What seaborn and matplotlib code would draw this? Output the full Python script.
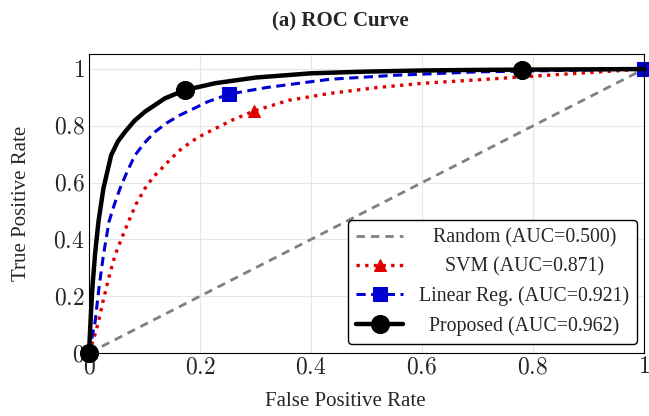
import matplotlib
matplotlib.use("Agg")
import matplotlib.pyplot as plt
import seaborn as sns

# ROC points
random_fpr = [0.0, 1.0]
random_tpr = [0.0, 1.0]

svm_fpr = [0.0, 0.005, 0.010, 0.017, 0.025, 0.035, 0.047, 0.059, 0.071,
           0.085, 0.101, 0.115, 0.131, 0.148, 0.167, 0.195, 0.227, 0.26,
           0.298, 0.36, 0.433, 0.52, 0.602, 0.7, 0.77, 0.88, 1.0]
svm_tpr = [0.0, 0.03, 0.06, 0.11, 0.18, 0.26, 0.345, 0.405, 0.462,
           0.525, 0.58, 0.618, 0.65, 0.685, 0.72, 0.758, 0.79, 0.822,
           0.853, 0.89, 0.914, 0.935, 0.95, 0.962, 0.971, 0.985, 1.0]
svm_marks = [18]

lin_fpr = [0.0, 0.005, 0.011, 0.018, 0.026, 0.036, 0.046, 0.056, 0.069,
           0.083, 0.1, 0.119, 0.14, 0.164, 0.19, 0.214, 0.253, 0.32, 0.434,
           0.55, 0.7, 0.85, 1.0]
lin_tpr = [0.0, 0.05, 0.110, 0.23, 0.345, 0.462, 0.525, 0.58, 0.64,
           0.697, 0.74, 0.779, 0.81, 0.838, 0.862, 0.885, 0.912, 0.935, 0.964,
           0.978, 0.99, 0.995, 1.0]
lin_marks = [16, 22]

prop_fpr = [0.0, 0.003, 0.006, 0.011, 0.017, 0.026, 0.04, 0.052, 0.065,
            0.082, 0.101, 0.137, 0.173, 0.227, 0.3, 0.4, 0.5, 0.6, 0.7,
            0.78, 0.9, 1.0]
prop_tpr = [0.0, 0.12, 0.228, 0.35, 0.462, 0.58, 0.697, 0.745, 0.779,
            0.818, 0.85, 0.897, 0.926, 0.95, 0.97, 0.985, 0.991, 0.995,
            0.997, 0.998, 0.999, 1.0]
prop_marks = [0, 12, 19]

labels = ["Random (AUC=0.500)", "SVM (AUC=0.871)",
          "Linear Reg. (AUC=0.921)", "Proposed (AUC=0.962)"]
tick_values = [0, 0.2, 0.4, 0.6, 0.8, 1]
tick_labels = ["0", "0.2", "0.4", "0.6", "0.8", "1"]

sns.set_style("whitegrid", {
    "axes.edgecolor": "black",
    "grid.color": "#e6e6e6",
    "axes.linewidth": 1.0,
})
plt.rcParams["font.family"] = ["Liberation Serif", "DejaVu Serif"]
plt.rcParams["mathtext.fontset"] = "cm"

figure = plt.figure(figsize=(6.49, 4.16), dpi=100)
ax = figure.add_axes([89 / 649, 63 / 416, 555 / 649, 299 / 416])

red = "#e00000"
blue = "#0000d0"

sns.lineplot(x=random_fpr, y=random_tpr, ax=ax, color="#808080",
             linestyle=(0, (3.0, 2.2)), linewidth=2.0, label=labels[0],
             sort=False, estimator=None)
sns.lineplot(x=svm_fpr, y=svm_tpr, ax=ax, color=red,
             linestyle=(0, (1.0, 1.6)), linewidth=2.4, marker="^",
             markersize=8, markeredgecolor=red, markevery=svm_marks,
             label=labels[1], sort=False, estimator=None, clip_on=False)
sns.lineplot(x=lin_fpr, y=lin_tpr, ax=ax, color=blue,
             linestyle=(0, (3.0, 1.8)), linewidth=2.2, marker="s",
             markersize=10, markeredgecolor=blue, markevery=lin_marks,
             label=labels[2], sort=False, estimator=None, clip_on=False)
sns.lineplot(x=prop_fpr, y=prop_tpr, ax=ax, color="black",
             linestyle="-", linewidth=3.2, marker="o",
             markersize=13, markeredgecolor="black", markevery=prop_marks,
             label=labels[3], sort=False, estimator=None, clip_on=False)

ax.set_xlim(0, 1)
ax.set_ylim(0, 1.053)
ax.set_xticks(tick_values)
ax.set_yticks(tick_values)
ax.set_xticklabels(["${}$".format(t) for t in tick_labels], fontsize=17)
ax.set_yticklabels(["${}$".format(t) for t in tick_labels], fontsize=17)
ax.tick_params(length=0, pad=3)
ax.set_xlabel("False Positive Rate", fontsize=15)
ax.set_ylabel("True Positive Rate", fontsize=15)
ax.xaxis.set_label_coords((345 - 89) / 555, -0.13)
ax.yaxis.set_label_coords(-0.105, 0.5)
figure.suptitle("(a) ROC Curve", fontsize=15, fontweight="bold",
                x=340 / 649, y=0.972, va="top")

legend = ax.legend(loc="lower right", bbox_to_anchor=(0.988, 0.03),
                   borderaxespad=0, fontsize=14.3, handlelength=2.4,
                   fancybox=True, framealpha=1, edgecolor="black")
legend.get_frame().set_linewidth(1.0)

# center the legend texts like the original
figure.canvas.draw()
renderer = figure.canvas.get_renderer()
widths = [t.get_window_extent(renderer).width for t in legend.get_texts()]
for t, w in zip(legend.get_texts(), widths):
    t.set_x((max(widths) - w) / 2)

plt.savefig("out.png", dpi=100)
